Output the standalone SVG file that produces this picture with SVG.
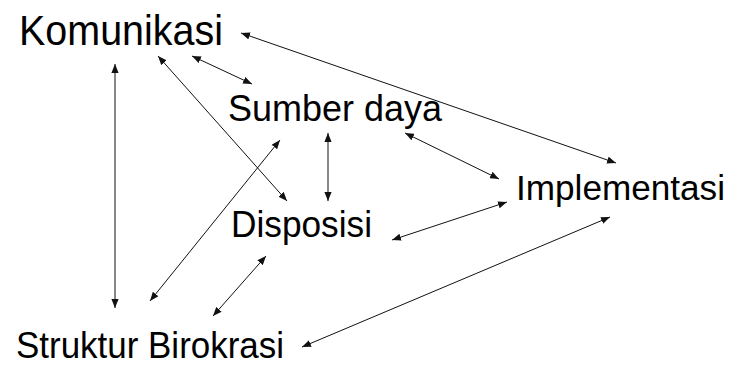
<svg xmlns="http://www.w3.org/2000/svg" width="732" height="365" viewBox="0 0 732 365">
  <style>
    .label { font-family: "Liberation Sans", Arial, sans-serif; fill: #000; }
    .link { stroke: #111; stroke-width: 1; fill: none; marker-start: url(#head); marker-end: url(#head); }
  </style>
  <defs>
    <marker id="head" viewBox="0 0 10 8" refX="10" refY="4" markerWidth="9" markerHeight="7.2" markerUnits="userSpaceOnUse" orient="auto-start-reverse">
      <path d="M0,0 L10,4 L0,8 z" fill="#111"/>
    </marker>
  </defs>
  <rect width="732" height="365" fill="#fff"/>

  <g id="connectors">
    <line class="link" x1="241" y1="33" x2="616" y2="163"/>
    <line class="link" x1="192" y1="56" x2="252" y2="84"/>
    <line class="link" x1="158" y1="56" x2="287" y2="201"/>
    <line class="link" x1="115" y1="64" x2="115" y2="308"/>
    <line class="link" x1="280" y1="140" x2="150" y2="301"/>
    <line class="link" x1="328" y1="133" x2="328" y2="201"/>
    <line class="link" x1="405" y1="133" x2="499" y2="179"/>
    <line class="link" x1="392" y1="240" x2="507" y2="202"/>
    <line class="link" x1="266" y1="256" x2="213" y2="316"/>
    <line class="link" x1="302" y1="347" x2="610" y2="217"/>
  </g>

  <g id="komunikasi">
    <text class="label" x="19" y="45" font-size="42" textLength="204" lengthAdjust="spacingAndGlyphs">Komunikasi</text>
  </g>
  <g id="sumber-daya">
    <text class="label" x="228" y="121" font-size="37.5" textLength="214" lengthAdjust="spacingAndGlyphs">Sumber daya</text>
  </g>
  <g id="implementasi">
    <text class="label" x="516" y="200" font-size="35.5" textLength="209" lengthAdjust="spacingAndGlyphs">Implementasi</text>
  </g>
  <g id="disposisi">
    <text class="label" x="231" y="236.5" font-size="37" textLength="141" lengthAdjust="spacingAndGlyphs">Disposisi</text>
  </g>
  <g id="struktur-birokrasi">
    <text class="label" x="16" y="358" font-size="37" textLength="268" lengthAdjust="spacingAndGlyphs">Struktur Birokrasi</text>
  </g>
</svg>
